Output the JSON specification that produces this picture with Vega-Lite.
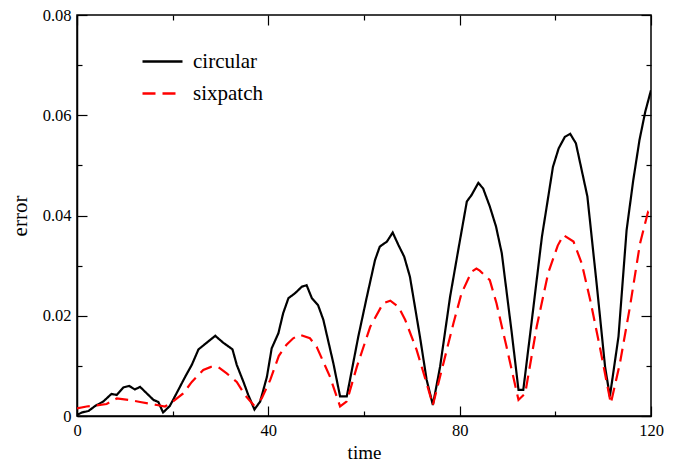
{
  "$schema": "https://vega.github.io/schema/vega-lite/v6.json",
  "width": 574,
  "height": 401,
  "autosize": {"type": "none"},
  "padding": {"left": 77, "top": 15, "right": 32, "bottom": 49},
  "background": "white",
  "config": {
    "view": {"stroke": "black", "strokeWidth": 1.5},
    "axis": {
      "labelFont": "Liberation Serif", "titleFont": "Liberation Serif",
      "labelFontSize": 16.5, "titleFontSize": 19, "titleFontWeight": "normal",
      "labelColor": "black", "titleColor": "black", "domainColor": "black",
      "tickColor": "black", "grid": false, "domainWidth": 1.5, "tickWidth": 1.2
    }
  },
  "data": {"values": [
    {"time": 0, "error": 0.0002, "series": "circular"},
    {"time": 1, "error": 0.0007, "series": "circular"},
    {"time": 2.4, "error": 0.001, "series": "circular"},
    {"time": 3.8, "error": 0.002, "series": "circular"},
    {"time": 5.5, "error": 0.0029, "series": "circular"},
    {"time": 7.2, "error": 0.0044, "series": "circular"},
    {"time": 8.3, "error": 0.0042, "series": "circular"},
    {"time": 9.7, "error": 0.0057, "series": "circular"},
    {"time": 10.9, "error": 0.006, "series": "circular"},
    {"time": 12.1, "error": 0.0053, "series": "circular"},
    {"time": 13.2, "error": 0.0058, "series": "circular"},
    {"time": 14.6, "error": 0.0045, "series": "circular"},
    {"time": 16, "error": 0.0032, "series": "circular"},
    {"time": 17, "error": 0.0028, "series": "circular"},
    {"time": 18, "error": 0.0007, "series": "circular"},
    {"time": 19.4, "error": 0.002, "series": "circular"},
    {"time": 20.8, "error": 0.0045, "series": "circular"},
    {"time": 22.6, "error": 0.0078, "series": "circular"},
    {"time": 24, "error": 0.0102, "series": "circular"},
    {"time": 25.4, "error": 0.0133, "series": "circular"},
    {"time": 27.1, "error": 0.0146, "series": "circular"},
    {"time": 28.9, "error": 0.016, "series": "circular"},
    {"time": 30.6, "error": 0.0146, "series": "circular"},
    {"time": 32.5, "error": 0.0133, "series": "circular"},
    {"time": 33.4, "error": 0.0102, "series": "circular"},
    {"time": 34.8, "error": 0.0068, "series": "circular"},
    {"time": 35.8, "error": 0.0042, "series": "circular"},
    {"time": 37.1, "error": 0.0013, "series": "circular"},
    {"time": 38.3, "error": 0.0029, "series": "circular"},
    {"time": 39.7, "error": 0.0078, "series": "circular"},
    {"time": 40.7, "error": 0.0135, "series": "circular"},
    {"time": 42.1, "error": 0.0165, "series": "circular"},
    {"time": 43.1, "error": 0.0205, "series": "circular"},
    {"time": 44.2, "error": 0.0235, "series": "circular"},
    {"time": 45.6, "error": 0.0245, "series": "circular"},
    {"time": 47, "error": 0.0258, "series": "circular"},
    {"time": 48, "error": 0.0261, "series": "circular"},
    {"time": 49.1, "error": 0.0235, "series": "circular"},
    {"time": 50.4, "error": 0.0221, "series": "circular"},
    {"time": 51.5, "error": 0.0192, "series": "circular"},
    {"time": 53.6, "error": 0.0105, "series": "circular"},
    {"time": 55, "error": 0.0039, "series": "circular"},
    {"time": 56.4, "error": 0.0039, "series": "circular"},
    {"time": 58.8, "error": 0.0158, "series": "circular"},
    {"time": 60.6, "error": 0.0238, "series": "circular"},
    {"time": 62.3, "error": 0.0311, "series": "circular"},
    {"time": 63.3, "error": 0.0338, "series": "circular"},
    {"time": 64.8, "error": 0.0348, "series": "circular"},
    {"time": 66, "error": 0.0366, "series": "circular"},
    {"time": 67.2, "error": 0.0341, "series": "circular"},
    {"time": 68.4, "error": 0.0318, "series": "circular"},
    {"time": 69.6, "error": 0.0278, "series": "circular"},
    {"time": 71.7, "error": 0.0158, "series": "circular"},
    {"time": 73.1, "error": 0.0072, "series": "circular"},
    {"time": 74.4, "error": 0.0022, "series": "circular"},
    {"time": 75.9, "error": 0.0098, "series": "circular"},
    {"time": 78, "error": 0.0238, "series": "circular"},
    {"time": 79.7, "error": 0.0331, "series": "circular"},
    {"time": 81.5, "error": 0.0428, "series": "circular"},
    {"time": 82.5, "error": 0.0441, "series": "circular"},
    {"time": 83.9, "error": 0.0465, "series": "circular"},
    {"time": 84.9, "error": 0.0454, "series": "circular"},
    {"time": 86.3, "error": 0.0418, "series": "circular"},
    {"time": 87.6, "error": 0.0378, "series": "circular"},
    {"time": 88.8, "error": 0.0325, "series": "circular"},
    {"time": 90.9, "error": 0.0165, "series": "circular"},
    {"time": 92.3, "error": 0.0052, "series": "circular"},
    {"time": 93.3, "error": 0.0052, "series": "circular"},
    {"time": 95.1, "error": 0.0192, "series": "circular"},
    {"time": 97.2, "error": 0.0358, "series": "circular"},
    {"time": 98.2, "error": 0.0418, "series": "circular"},
    {"time": 99.5, "error": 0.0497, "series": "circular"},
    {"time": 100.7, "error": 0.0534, "series": "circular"},
    {"time": 102, "error": 0.0557, "series": "circular"},
    {"time": 103.1, "error": 0.0563, "series": "circular"},
    {"time": 104.3, "error": 0.0544, "series": "circular"},
    {"time": 105.5, "error": 0.0491, "series": "circular"},
    {"time": 106.7, "error": 0.0438, "series": "circular"},
    {"time": 108.7, "error": 0.0258, "series": "circular"},
    {"time": 110.4, "error": 0.0098, "series": "circular"},
    {"time": 111.4, "error": 0.0039, "series": "circular"},
    {"time": 113.2, "error": 0.0158, "series": "circular"},
    {"time": 114.9, "error": 0.0371, "series": "circular"},
    {"time": 116.3, "error": 0.0471, "series": "circular"},
    {"time": 117.6, "error": 0.0551, "series": "circular"},
    {"time": 118.8, "error": 0.0607, "series": "circular"},
    {"time": 120, "error": 0.065, "series": "circular"},
    {"time": 0, "error": 0.0015, "series": "sixpatch"},
    {"time": 2, "error": 0.0019, "series": "sixpatch"},
    {"time": 4, "error": 0.0021, "series": "sixpatch"},
    {"time": 6.2, "error": 0.0024, "series": "sixpatch"},
    {"time": 8.3, "error": 0.0035, "series": "sixpatch"},
    {"time": 11, "error": 0.0032, "series": "sixpatch"},
    {"time": 13.2, "error": 0.0028, "series": "sixpatch"},
    {"time": 15, "error": 0.0025, "series": "sixpatch"},
    {"time": 16.7, "error": 0.0022, "series": "sixpatch"},
    {"time": 18.4, "error": 0.0019, "series": "sixpatch"},
    {"time": 20.1, "error": 0.0029, "series": "sixpatch"},
    {"time": 22.2, "error": 0.0045, "series": "sixpatch"},
    {"time": 24, "error": 0.0068, "series": "sixpatch"},
    {"time": 26.4, "error": 0.0092, "series": "sixpatch"},
    {"time": 28, "error": 0.0098, "series": "sixpatch"},
    {"time": 29.5, "error": 0.0098, "series": "sixpatch"},
    {"time": 31.3, "error": 0.0085, "series": "sixpatch"},
    {"time": 33.4, "error": 0.0068, "series": "sixpatch"},
    {"time": 35.1, "error": 0.0042, "series": "sixpatch"},
    {"time": 36.9, "error": 0.0022, "series": "sixpatch"},
    {"time": 38.6, "error": 0.0035, "series": "sixpatch"},
    {"time": 40.4, "error": 0.0072, "series": "sixpatch"},
    {"time": 42.2, "error": 0.012, "series": "sixpatch"},
    {"time": 43.8, "error": 0.0142, "series": "sixpatch"},
    {"time": 45.2, "error": 0.0155, "series": "sixpatch"},
    {"time": 46.6, "error": 0.0162, "series": "sixpatch"},
    {"time": 48.7, "error": 0.0155, "series": "sixpatch"},
    {"time": 50.1, "error": 0.0138, "series": "sixpatch"},
    {"time": 52.9, "error": 0.0078, "series": "sixpatch"},
    {"time": 55, "error": 0.0019, "series": "sixpatch"},
    {"time": 56.4, "error": 0.0029, "series": "sixpatch"},
    {"time": 58.5, "error": 0.0098, "series": "sixpatch"},
    {"time": 61.3, "error": 0.0178, "series": "sixpatch"},
    {"time": 64, "error": 0.0225, "series": "sixpatch"},
    {"time": 65.5, "error": 0.023, "series": "sixpatch"},
    {"time": 67.2, "error": 0.0218, "series": "sixpatch"},
    {"time": 68.6, "error": 0.0192, "series": "sixpatch"},
    {"time": 71, "error": 0.0132, "series": "sixpatch"},
    {"time": 73.1, "error": 0.0065, "series": "sixpatch"},
    {"time": 74.4, "error": 0.0022, "series": "sixpatch"},
    {"time": 76.6, "error": 0.0105, "series": "sixpatch"},
    {"time": 78.7, "error": 0.0185, "series": "sixpatch"},
    {"time": 80.4, "error": 0.0245, "series": "sixpatch"},
    {"time": 82.5, "error": 0.0288, "series": "sixpatch"},
    {"time": 83.5, "error": 0.0294, "series": "sixpatch"},
    {"time": 84.2, "error": 0.029, "series": "sixpatch"},
    {"time": 86.3, "error": 0.0271, "series": "sixpatch"},
    {"time": 87.7, "error": 0.0225, "series": "sixpatch"},
    {"time": 89.8, "error": 0.0138, "series": "sixpatch"},
    {"time": 92.3, "error": 0.0032, "series": "sixpatch"},
    {"time": 93.7, "error": 0.0045, "series": "sixpatch"},
    {"time": 96.1, "error": 0.0178, "series": "sixpatch"},
    {"time": 98.5, "error": 0.0285, "series": "sixpatch"},
    {"time": 100.5, "error": 0.034, "series": "sixpatch"},
    {"time": 101.7, "error": 0.0361, "series": "sixpatch"},
    {"time": 103.8, "error": 0.0348, "series": "sixpatch"},
    {"time": 105.5, "error": 0.0305, "series": "sixpatch"},
    {"time": 107.3, "error": 0.0231, "series": "sixpatch"},
    {"time": 109.3, "error": 0.0138, "series": "sixpatch"},
    {"time": 111.6, "error": 0.0025, "series": "sixpatch"},
    {"time": 113.5, "error": 0.0105, "series": "sixpatch"},
    {"time": 115.6, "error": 0.0218, "series": "sixpatch"},
    {"time": 117.7, "error": 0.0344, "series": "sixpatch"},
    {"time": 119.4, "error": 0.0408, "series": "sixpatch"},
    {"time": 120, "error": 0.041, "series": "sixpatch"}
  ]},
  "layer": [
    {
      "mark": {"type": "line", "strokeWidth": 2.2, "clip": true},
      "encoding": {
        "x": {"field": "time", "type": "quantitative",
          "scale": {"domain": [0, 120], "nice": false, "zero": false},
          "axis": {"title": "time", "values": [0, 20, 40, 60, 80, 100, 120],
            "labelExpr": "datum.value % 40 === 0 ? datum.label : ''",
            "tickSize": {"condition": {"test": "datum.value % 40 === 0", "value": -10}, "value": -5},
            "labelPadding": 16, "titlePadding": 5, "titleFontSize": 19, "labelFlush": false}},
        "y": {"field": "error", "type": "quantitative",
          "scale": {"domain": [0, 0.08], "nice": false, "zero": false},
          "axis": {"title": "error", "values": [0, 0.01, 0.02, 0.03, 0.04, 0.05, 0.06, 0.07, 0.08],
            "labelExpr": "round(datum.value * 100) % 2 === 0 ? (datum.value === 0 ? '0' : format(datum.value, '.2f')) : ''",
            "tickSize": {"condition": {"test": "round(datum.value * 100) % 2 === 0", "value": -10}, "value": -5},
            "labelPadding": 16, "titlePadding": 12, "titleFontSize": 21, "labelFlush": false}},
        "color": {"field": "series", "type": "nominal",
          "scale": {"domain": ["circular", "sixpatch"], "range": ["black", "#ff0000"]},
          "legend": {"title": null, "orient": "none", "legendX": 64, "legendY": 25,
            "symbolType": "stroke", "symbolSize": 1600, "symbolStrokeWidth": 2.5,
            "labelFont": "Liberation Serif", "labelFontSize": 21, "labelColor": "black",
            "labelOffset": 9, "rowPadding": -9}},
        "strokeDash": {"field": "series", "type": "nominal",
          "scale": {"domain": ["circular", "sixpatch"], "range": [[1, 0], [13, 7]]},
          "legend": null}
      }
    },
    {
      "mark": {"type": "point", "opacity": 0},
      "encoding": {
        "x": {"field": "time", "type": "quantitative",
          "axis": {"orient": "top", "title": null, "labels": false, "domain": false, "values": [0, 20, 40, 60, 80, 100, 120],
            "tickSize": {"condition": {"test": "datum.value % 40 === 0", "value": -10}, "value": -5}}},
        "y": {"field": "error", "type": "quantitative",
          "axis": {"orient": "right", "title": null, "labels": false, "domain": false, "values": [0, 0.01, 0.02, 0.03, 0.04, 0.05, 0.06, 0.07, 0.08],
            "tickSize": {"condition": {"test": "round(datum.value * 100) % 2 === 0", "value": -10}, "value": -5}}}
      }
    }
  ],
  "resolve": {"axis": {"x": "independent", "y": "independent"}}
}
